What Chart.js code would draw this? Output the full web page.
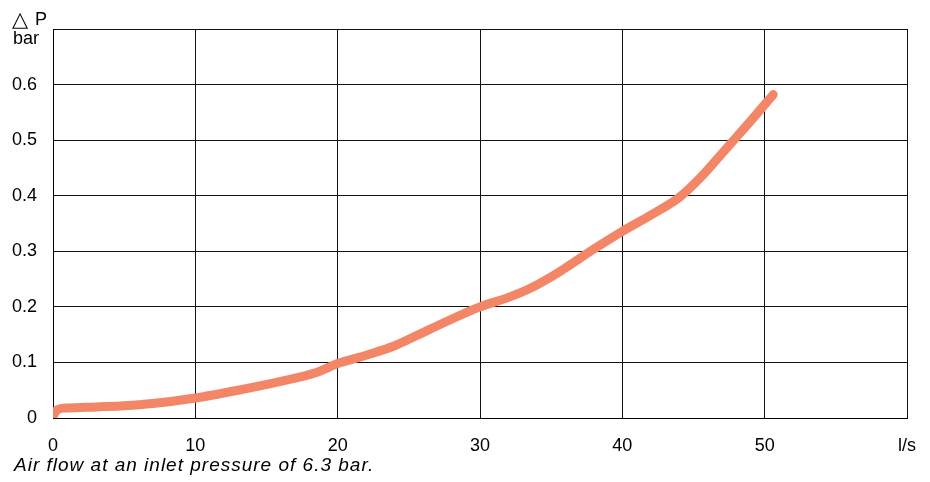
<!DOCTYPE html>
<html>
<head>
<meta charset="utf-8">
<script src="https://cdn.jsdelivr.net/npm/chart.js@4"></script>
<style>
  html, body { margin: 0; padding: 0; background: #fff; }
  #wrap { width: 930px; height: 482px; position: relative; }
</style>
</head>
<body>
<div id="wrap"><canvas id="myChart" width="930" height="482"></canvas></div>
<script>
// flow in l/s
let flow = [0, 0.3, 1, 3, 5, 7, 10, 13, 16, 18.5, 20, 22, 24, 26.5, 30, 32, 33.5, 35, 36, 38, 40, 42, 44, 45.5, 47, 48, 49, 50.6];
// pressure drop in bar
let dropBar = [0.003, 0.015, 0.018, 0.02, 0.022, 0.026, 0.036, 0.05, 0.066, 0.082, 0.098, 0.113, 0.13, 0.16, 0.2, 0.217, 0.233, 0.254, 0.27, 0.304, 0.336, 0.365, 0.397, 0.433, 0.476, 0.505, 0.534, 0.582];
let xTicks = ["0", "10", "20", "30", "40", "50", "l/s"];
let yTicks = ["0", "0.1", "0.2", "0.3", "0.4", "0.5", "0.6", ""];
let caption = "Air flow at an inlet pressure of 6.3 bar.";
let yUnit = ["\u25B3", "P", "bar"];

let points = flow.map(function(f, i) {
  return { x: f, y: dropBar[i] };
});

let fontFam = "'Liberation Sans', Arial, sans-serif";

// draws the unit at top-left and the caption under the chart
let textPlugin = {
  id: "extraText",
  afterDraw: function(chart) {
    let ctx = chart.ctx;
    ctx.save();
    ctx.fillStyle = "#000";
    ctx.textBaseline = "alphabetic";
    ctx.textAlign = "left";
    ctx.font = "21px 'DejaVu Sans', sans-serif";
    ctx.fillText(yUnit[0], 12, 26);
    ctx.font = "18px " + fontFam;
    ctx.fillText(yUnit[1], 35, 25);
    ctx.fillText(yUnit[2], 13, 44);
    ctx.font = "italic 19px " + fontFam;
    if ("letterSpacing" in ctx) ctx.letterSpacing = "1px";
    ctx.fillText(caption, 14, 471);
    ctx.restore();
  }
};

let ctx = document.getElementById("myChart").getContext("2d");
let chart = new Chart(ctx, {
  type: "line",
  data: {
    datasets: [
      {
        data: points,
        borderColor: "rgb(244, 134, 104)",
        borderWidth: 9,
        borderCapStyle: "round",
        borderJoinStyle: "round",
        pointRadius: 0,
        fill: false,
        cubicInterpolationMode: "monotone"
      }
    ]
  },
  plugins: [textPlugin],
  options: {
    responsive: false,
    animation: false,
    layout: { padding: { left: 0, right: 23, top: 29, bottom: 0 } },
    plugins: {
      legend: { display: false },
      tooltip: { enabled: false },
      title: { display: false }
    },
    scales: {
      x: {
        type: "linear",
        min: 0,
        max: 60,
        afterFit: function(scale) {
          scale.height = 64;
          scale.paddingLeft = 0;
          scale.paddingRight = 0;
        },
        border: { display: true, color: "#000", width: 1 },
        grid: { color: "#111", lineWidth: 1, drawTicks: false },
        ticks: {
          stepSize: 10,
          padding: 17,
          maxRotation: 0,
          color: "#000",
          font: { family: fontFam, size: 18 },
          callback: function(value) {
            return xTicks[Math.round(value / 10)];
          }
        }
      },
      y: {
        min: 0,
        max: 0.7,
        afterFit: function(scale) {
          scale.width = 53;
          scale.paddingTop = 0;
          scale.paddingBottom = 0;
        },
        border: { display: true, color: "#000", width: 1 },
        grid: { color: "#111", lineWidth: 1, drawTicks: false },
        ticks: {
          stepSize: 0.1,
          padding: 16,
          color: "#000",
          font: { family: fontFam, size: 18 },
          callback: function(value) {
            return yTicks[Math.round(value * 10)];
          }
        }
      }
    }
  }
});
</script>
</body>
</html>
